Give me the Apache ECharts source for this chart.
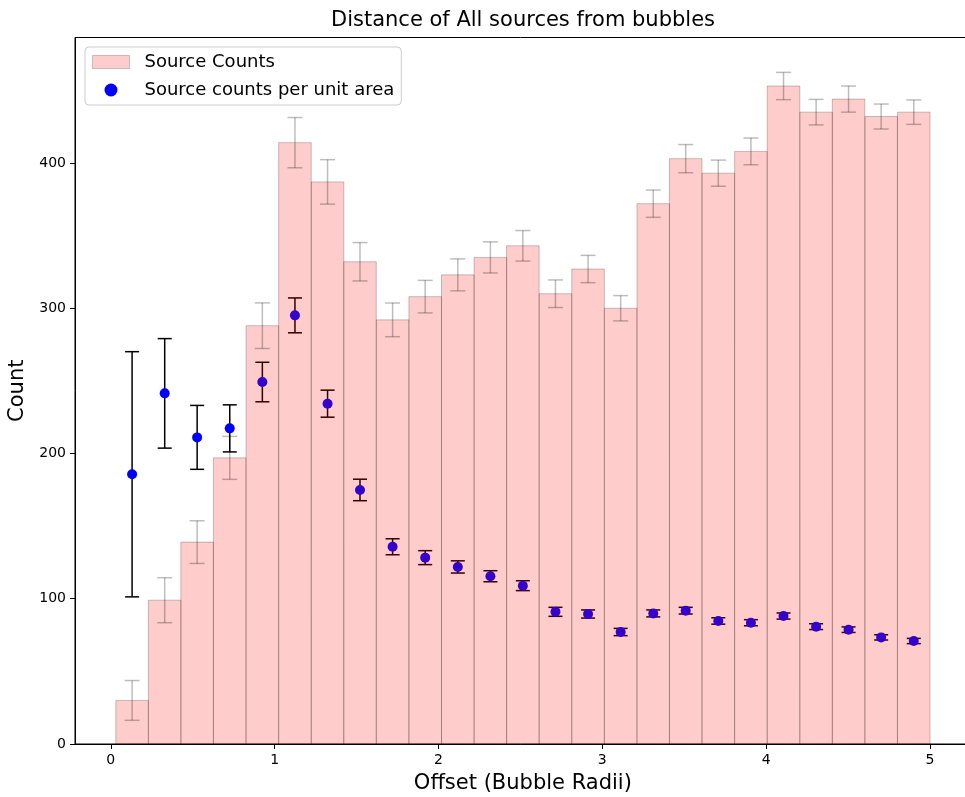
<!DOCTYPE html>
<html>
<head>
<meta charset="utf-8">
<script src="https://cdn.jsdelivr.net/npm/echarts@6/dist/echarts.min.js"></script>
<style>html,body{margin:0;padding:0;background:#fff}#chart{width:965px;height:797px}</style>
</head>
<body>
<div id="chart"></div>
<script>
// Bin centres (Offset, bubble radii) and bin width
const binCenters = [0.130,0.329,0.527,0.726,0.925,1.124,1.323,1.521,1.720,1.919,2.118,2.317,2.515,2.714,2.913,3.112,3.311,3.509,3.708,3.907,4.106,4.305,4.503,4.702,4.901];
const binWidth = 0.1988;
// Source counts (histogram) and their errors
const sourceCounts = [30,99,139,197,288,414,387,332,292,308,323,335,343,310,327,300,372,403,393,408,453,435,444,432,435];
const countErrors = [13.7,15.5,14.7,14.8,15.7,17.3,15.3,13.2,11.6,11.2,11.0,10.7,10.5,9.5,9.4,8.7,9.4,9.7,9.0,9.2,9.4,8.8,9.0,8.6,8.4];
// Source counts per unit area and their errors
const densityValues = [185.7,241.4,211.1,217.3,249.2,295.1,234.3,174.9,135.8,128.3,121.9,115.5,109.0,91.0,89.5,77.1,89.9,91.8,84.7,83.5,88.1,80.8,78.7,73.4,70.9];
const densityErrors = [84.4,37.7,22.0,16.2,13.6,12.0,9.3,7.4,5.5,4.8,4.2,3.8,3.4,3.1,2.8,2.5,2.4,2.3,2.2,2.1,2.1,2.0,1.9,1.8,1.8];
// Tick values
const xTicks = [0,1,2,3,4,5];
const yTicks = [0,100,200,300,400];

const FONT = 'DejaVu Sans';
const chart = echarts.init(document.getElementById('chart'), null, {renderer:'canvas'});

const histData = binCenters.map((c,i)=>[c, sourceCounts[i], countErrors[i]]);
const densData = binCenters.map((c,i)=>[c, densityValues[i], densityErrors[i]]);

function errorBar(api, color, lw, capHalf){
  const x = api.value(0), y = api.value(1), e = api.value(2);
  const top = api.coord([x, y + e]);
  const bot = api.coord([x, y - e]);
  const s = {stroke: color, lineWidth: lw};
  return {type:'group', children:[
    {type:'line', shape:{x1:top[0], y1:top[1], x2:bot[0], y2:bot[1]}, style:s},
    {type:'line', shape:{x1:top[0]-capHalf, y1:top[1], x2:top[0]+capHalf, y2:top[1]}, style:s},
    {type:'line', shape:{x1:bot[0]-capHalf, y1:bot[1], x2:bot[0]+capHalf, y2:bot[1]}, style:s}
  ]};
}

const option = {
  backgroundColor:'#ffffff',
  animation:false,
  title:{
    text:'Distance of All sources from bubbles',
    left:523, top:10, padding:0, textAlign:'center',
    textStyle:{fontFamily:FONT, fontSize:21, fontWeight:'normal', color:'#000'}
  },
  legend:{
    orient:'vertical', left:85, top:47, padding:[6,7,6,7],
    itemWidth:37, itemHeight:13, itemGap:10,
    backgroundColor:'rgba(255,255,255,0.8)', borderColor:'#cccccc', borderWidth:1, borderRadius:4,
    textStyle:{fontFamily:FONT, fontSize:18, color:'#000', padding:[0,0,0,10]},
    data:[
      {name:'Source Counts', icon:'rect', itemStyle:{color:'rgba(255,0,0,0.2)', borderColor:'rgba(0,0,0,0.2)', borderWidth:1}},
      {name:'Source counts per unit area', icon:'circle', itemStyle:{color:'#0000ff'}}
    ],
    z:10
  },
  grid:{left:75, top:37.5, right:-5.7, bottom:53, show:true, borderColor:'#000', borderWidth:1, backgroundColor:'transparent', containLabel:false, outerBoundsMode:'none'},
  xAxis:{
    type:'value', min:-0.2185, max:5.2485,
    name:'Offset (Bubble Radii)', nameLocation:'middle', nameGap:29,
    nameTextStyle:{fontFamily:FONT, fontSize:21, color:'#000'},
    axisLine:{show:true, onZero:false, lineStyle:{color:'#000', width:1}},
    axisTick:{show:true, length:5, lineStyle:{color:'#000'}, customValues:xTicks},
    axisLabel:{fontFamily:FONT, fontSize:14, color:'#000', margin:9, customValues:xTicks},
    splitLine:{show:false}
  },
  yAxis:{
    type:'value', min:0, max:486.4,
    name:'Count', nameLocation:'middle', nameGap:44,
    nameTextStyle:{fontFamily:FONT, fontSize:21, color:'#000'},
    axisLine:{show:true, onZero:false, lineStyle:{color:'#000', width:1}},
    axisTick:{show:true, length:5, lineStyle:{color:'#000'}, customValues:yTicks},
    axisLabel:{fontFamily:FONT, fontSize:14, color:'#000', margin:9, customValues:yTicks},
    splitLine:{show:false}
  },
  series:[
    {
      name:'Source counts per unit area', type:'custom', z:1,
      renderItem:(params, api)=>errorBar(api, '#000000', 1.5, 7),
      data:densData, encode:{x:0, y:1}, silent:true
    },
    {
      name:'Source counts per unit area', type:'scatter', z:2,
      symbol:'circle', symbolSize:10,
      itemStyle:{color:'#0000ff', opacity:1},
      data:densData.map(d=>[d[0], d[1]])
    },
    {
      name:'Source Counts', type:'custom', z:3,
      itemStyle:{color:'rgba(255,0,0,0.2)'},
      renderItem:(params, api)=>{
        const c = api.value(0), v = api.value(1);
        const p0 = api.coord([c - binWidth/2, v]);
        const p1 = api.coord([c + binWidth/2, 0]);
        return {type:'rect', shape:{x:p0[0], y:p0[1], width:p1[0]-p0[0], height:p1[1]-p0[1]},
          style:{fill:'rgba(255,0,0,0.2)', stroke:'rgba(0,0,0,0.22)', lineWidth:1}};
      },
      data:histData, encode:{x:0, y:1}
    },
    {
      name:'Source Counts', type:'custom', z:4,
      renderItem:(params, api)=>errorBar(api, 'rgba(0,0,0,0.26)', 1.5, 7.5),
      data:histData, encode:{x:0, y:1}, silent:true
    }
  ]
};
chart.setOption(option);
</script>
</body>
</html>
